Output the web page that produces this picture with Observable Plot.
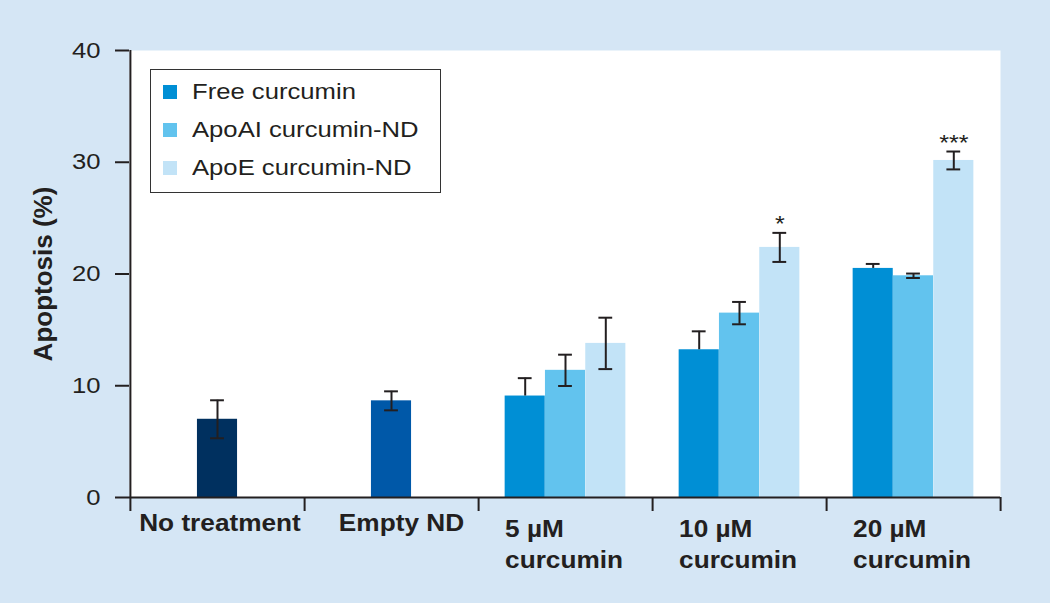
<!DOCTYPE html>
<html>
<head>
<meta charset="utf-8">
<script src="https://cdn.jsdelivr.net/npm/d3@7"></script>
<script src="https://cdn.jsdelivr.net/npm/@observablehq/plot@0.6"></script>
<style>
  html, body { margin: 0; padding: 0; background: #d5e6f5; overflow: hidden; }
  #wrap { position: relative; width: 1050px; height: 603px; background: #d5e6f5;
          font-family: "Liberation Sans", Arial, Helvetica, sans-serif; color: #231f20; }
  #wrap svg { position: absolute; left: 0; top: 0; }
  #legend { position: absolute; left: 150px; top: 69px; width: 291px; height: 124px;
            box-sizing: border-box; border: 1.5px solid #333; background: #fff; }
  #legend .row { position: absolute; left: 0; height: 38px; width: 100%; }
  #legend .sw { position: absolute; left: 11.5px; top: 11.75px; width: 14.5px; height: 14.5px; }
  #legend .lb { position: absolute; left: 41.2px; top: 0; line-height: 38px; font-size: 22.5px;
                white-space: nowrap; transform: scaleX(1.14); transform-origin: left center; }
</style>
</head>
<body>
<div id="wrap"></div>
<script>
// ---------- data ----------
const groups = ["No treatment", "Empty ND", "5 µM\ncurcumin", "10 µM\ncurcumin", "20 µM\ncurcumin"];

const controlGroups = ["No treatment", "Empty ND"];
const controlMeans = [7.0, 8.65];
const controlErrors = [1.7, 0.85];
const controlColors = ["#00305f", "#0058a8"];

const doseGroups = ["5 µM\ncurcumin", "10 µM\ncurcumin", "20 µM\ncurcumin"];
const seriesNames = ["Free curcumin", "ApoAI curcumin-ND", "ApoE curcumin-ND"];
const seriesColors = ["#008fd5", "#62c3ee", "#c2e3f7"];

const freeMeans = [9.08, 13.22, 20.5];
const freeErrors = [1.6, 1.65, 0.4];
const apoAIMeans = [11.38, 16.5, 19.84];
const apoAIErrors = [1.4, 1.0, 0.2];
const apoEMeans = [13.79, 22.38, 30.16];
const apoEErrors = [2.3, 1.3, 0.8];
const significance = ["", "*", "***"];

const yTicks = [0, 10, 20, 30, 40];
const yTitle = "Apoptosis (%)";

// ---------- layout / style ----------
const W = 1050, H = 603, mL = 129, mR = 50, mT = 50, mB = 106;
const band = (W - mL - mR) / groups.length;
const barW = 40.3, capW = 14;
const barInset = (band - barW) / 2, capInset = (band - capW) / 2;
const ink = "#231f20";
const stretch = 1.14;

const controls = controlGroups.map((g, i) => ({group: g, mean: controlMeans[i], err: controlErrors[i], color: controlColors[i]}));
const seriesMeans = [freeMeans, apoAIMeans, apoEMeans];
const seriesErrors = [freeErrors, apoAIErrors, apoEErrors];
const seriesRows = seriesNames.map((s, j) => doseGroups.map((g, i) => ({
  group: g, series: s, mean: seriesMeans[j][i], err: seriesErrors[j][i], sig: j === 2 ? significance[i] : ""
})));

function barMarks(rows, fill, dx, showLower) {
  const marks = [
    Plot.barY(rows, {x: "group", y: "mean", fill, dx, insetLeft: barInset, insetRight: barInset}),
    Plot.ruleX(rows, {x: "group", y1: d => showLower ? d.mean - d.err : d.mean, y2: d => d.mean + d.err, dx, stroke: ink, strokeWidth: 2}),
    Plot.tickY(rows, {x: "group", y: d => d.mean + d.err, dx, insetLeft: capInset, insetRight: capInset, stroke: ink, strokeWidth: 2})
  ];
  if (showLower) marks.push(Plot.tickY(rows, {x: "group", y: d => d.mean - d.err, dx, insetLeft: capInset, insetRight: capInset, stroke: ink, strokeWidth: 2}));
  return marks;
}

const labelStyle = {frameAnchor: "bottom", lineAnchor: "top", dy: 16.7, fontSize: 23, fontWeight: "bold", fill: ink};

const chart = Plot.plot({
  width: W, height: H,
  marginLeft: mL, marginRight: mR, marginTop: mT, marginBottom: mB,
  style: {background: "transparent", fontFamily: "Liberation Sans, Arial, Helvetica, sans-serif", color: ink, overflow: "visible"},
  x: {type: "band", domain: groups, padding: 0, axis: null},
  y: {domain: [0, 40], axis: null},
  color: {type: "identity"},
  marks: [
    Plot.frame({fill: "white", stroke: "none"}),
    ...barMarks(controls, "color", 0, true),
    ...barMarks(seriesRows[0], seriesColors[0], -barW, false),
    ...barMarks(seriesRows[1], seriesColors[1], 0, true),
    ...barMarks(seriesRows[2], seriesColors[2], barW, true),
    Plot.text(seriesRows[2], {x: "group", y: d => d.mean + d.err, text: "sig", dx: barW, dy: -2,
      lineAnchor: "bottom", fontSize: 22, fill: ink}),
    Plot.ruleY([0], {stroke: ink, strokeWidth: 2}),
    Plot.ruleX([groups[0]], {dx: -band / 2, insetBottom: -14, stroke: ink, strokeWidth: 2}),
    Plot.axisX({tickSize: 14, tickFormat: () => "", dx: band / 2, label: null, stroke: ink, strokeWidth: 2}),
    Plot.axisY({ticks: yTicks, tickSize: 14, tickPadding: 15, fontSize: 22.5, color: ink, strokeWidth: 2, label: null}),
    Plot.text([controlGroups[0]], {x: d => d, text: d => d, dx: 2.5, ...labelStyle}),
    Plot.text([controlGroups[1]], {x: d => d, text: d => d, dx: 10, ...labelStyle}),
    Plot.text(doseGroups, {x: d => d, text: d => d, dx: -barW * 1.5, textAnchor: "start", lineHeight: 1.37, ...labelStyle}),
    Plot.text([yTitle], {text: d => d, frameAnchor: "left", textAnchor: "middle", lineAnchor: "middle", rotate: -90, dx: -86,
      fontSize: 26, fontWeight: "bold", fill: ink})
  ]
});

// horizontal stretch of the lettering, as in the reference
chart.querySelectorAll("text").forEach(t => {
  const tr = t.getAttribute("transform") || "";
  if (tr.includes("rotate")) return;
  if (tr) t.setAttribute("transform", tr + ` scale(${stretch},1)`);
});

const wrap = document.getElementById("wrap");
wrap.appendChild(chart);

// legend
const legend = document.createElement("div");
legend.id = "legend";
seriesNames.forEach((name, i) => {
  const row = document.createElement("div");
  row.className = "row";
  row.style.top = (3.2 + 38 * i) + "px";
  const sw = document.createElement("div");
  sw.className = "sw";
  sw.style.background = seriesColors[i];
  const lb = document.createElement("span");
  lb.className = "lb";
  lb.textContent = name;
  row.appendChild(sw);
  row.appendChild(lb);
  legend.appendChild(row);
});
wrap.appendChild(legend);
</script>
</body>
</html>
